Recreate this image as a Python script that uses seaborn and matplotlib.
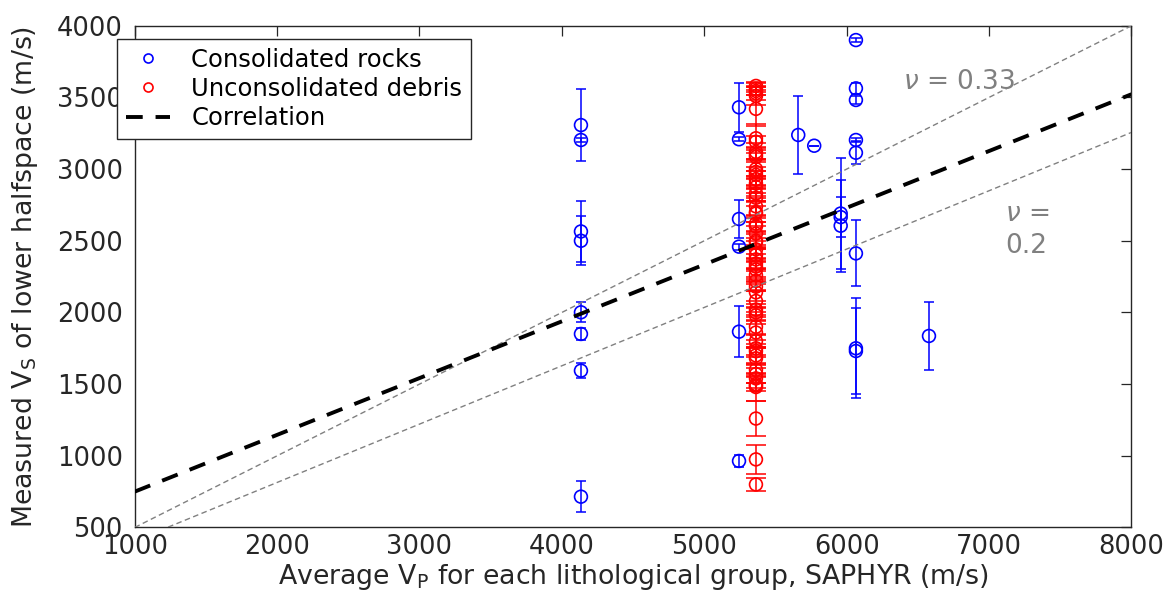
import numpy as np
import pandas as pd
import matplotlib
matplotlib.use("Agg")
import matplotlib.pyplot as plt
from matplotlib.lines import Line2D
import seaborn as sns

# Consolidated rocks: average Vp per lithological group and measured Vs (+/- error)
rock_vp = [4134] * 8 + [5244] * 6 + [5660, 5772] + [5958] * 3 + [6065] * 8 + [6578]
rock_vs = [3307, 3203, 2565, 2500, 2001, 1850, 1594, 715,
           3431, 3208, 2652, 2459, 1866, 964,
           3238, 3163,
           2690, 2665, 2605,
           3900, 3563, 3482, 3203, 3114, 2412, 1750, 1731,
           1836]
rock_err = [250, 15, 215, 170, 70, 40, 50, 110,
            170, 15, 130, 20, 180, 40,
            270, 0,
            390, 140, 320,
            12, 40, 30, 15, 80, 230, 350, 300,
            235]

# Unconsolidated debris: single Vp group
debris_vp_value = 5363
debris_vs = [3580, 3560, 3545, 3530, 3510, 3420, 3215, 3190, 3120, 3100,
             3085, 3000, 2980, 2960, 2930, 2900, 2875, 2830, 2800, 2740,
             2700, 2690, 2620, 2600, 2550, 2500, 2490, 2440, 2400, 2370,
             2340, 2320, 2300, 2260, 2220, 2180, 2140, 2080, 2020, 2000,
             1980, 1900, 1860, 1800, 1750, 1730, 1700, 1680, 1600, 1570,
             1540, 1500, 1490, 1480, 1260, 975, 800]
debris_err = [30, 40, 25, 50, 60, 120, 100, 40, 60, 30,
              70, 50, 90, 30, 60, 40, 80, 50, 30, 70,
              40, 90, 60, 30, 80, 50, 30, 60, 40, 70,
              30, 90, 50, 40, 70, 30, 60, 80, 40, 30,
              60, 50, 80, 40, 60, 30, 50, 70, 40, 60,
              30, 50, 20, 100, 125, 100, 45]
debris_vp = [debris_vp_value] * len(debris_vs)

# Linear correlation and constant Vs/Vp reference lines
corr_slope = 0.396
corr_intercept = 354
ratio_lines = {"nu_033": 0.5, "nu_02": 0.407}
vp_range = [1000, 8000]

x_ticks = [1000, 2000, 3000, 4000, 5000, 6000, 7000, 8000]
y_ticks = [500, 1000, 1500, 2000, 2500, 3000, 3500, 4000]

sns.set_theme(style="white")
plt.rcParams["font.family"] = ["DejaVu Sans"]
plt.rcParams["mathtext.fontset"] = "dejavusans"

dark = "#262626"
gray = "#808080"
blue = "#0000FF"
red = "#FF0000"

fig = plt.figure(figsize=(11.69, 6.01), dpi=100)
ax = fig.add_axes([0.1152, 0.1223, 0.8527, 0.8349])

rocks = pd.DataFrame({"vp": rock_vp, "vs": rock_vs, "err": rock_err})
debris = pd.DataFrame({"vp": debris_vp, "vs": debris_vs, "err": debris_err})

# error bars
ax.errorbar(rocks["vp"], rocks["vs"], yerr=rocks["err"], fmt="none",
            ecolor=blue, elinewidth=1.1, capsize=3.6, capthick=1.1, zorder=2)
ax.errorbar(debris["vp"], debris["vs"], yerr=debris["err"], fmt="none",
            ecolor=red, elinewidth=1.1, capsize=7, capthick=1.1, zorder=2)

# hollow circle markers
sns.scatterplot(data=rocks, x="vp", y="vs", ax=ax, marker="o", s=85,
                facecolors="none", edgecolor=blue, linewidth=1.2, zorder=3)
sns.scatterplot(data=debris, x="vp", y="vs", ax=ax, marker="o", s=85,
                facecolors="none", edgecolor=red, linewidth=1.2, zorder=3)

# reference lines
vp_arr = np.array(vp_range, dtype=float)
for key, ratio in ratio_lines.items():
    sns.lineplot(x=vp_arr, y=ratio * vp_arr, ax=ax, color=gray, linewidth=1.0,
                 zorder=4).lines[-1].set_dashes((4, 2.5))
corr_line = sns.lineplot(x=vp_arr, y=corr_slope * vp_arr + corr_intercept, ax=ax,
                         color="black", linewidth=2.8, zorder=5).lines[-1]
corr_line.set_dashes((4.3, 3.3))

ax.text(6395, 3610, r"$\nu$ = 0.33", color=gray, fontsize=19, ha="left", va="center")
ax.text(7112, 2578, "$\\nu$ =\n0.2", color=gray, fontsize=19, ha="left", va="center",
        linespacing=1.3)

ax.set_xlim(1000, 8000)
ax.set_ylim(500, 4000)
ax.set_xticks(x_ticks)
ax.set_yticks(y_ticks)
ax.tick_params(direction="in", top=True, right=True, length=7, width=0.9,
               colors=dark, labelsize=18.5)
ax.tick_params(axis="x", pad=5)
ax.tick_params(axis="y", pad=8.5)
for sp in ax.spines.values():
    sp.set_color(dark)
    sp.set_linewidth(1.0)
    sp.set_visible(True)

ax.set_xlabel(r"Average V$_\mathrm{P}$ for each lithological group, SAPHYR (m/s)",
              fontsize=19.3, color=dark, labelpad=1)
ax.set_ylabel(r"Measured V$_\mathrm{S}$ of lower halfspace (m/s)",
              fontsize=19.3, color=dark, labelpad=12)

handles = [
    Line2D([], [], marker="o", ls="none", mfc="none", mec=blue, ms=6.5, mew=1.2),
    Line2D([], [], marker="o", ls="none", mfc="none", mec=red, ms=6.5, mew=1.2),
    Line2D([], [], color="black", lw=2.8, dashes=(4.3, 3.3)),
]
leg = fig.legend(handles, ["Consolidated rocks", "Unconsolidated debris", "Correlation"],
                 loc="upper left", bbox_to_anchor=(0.1001, 0.9351), fontsize=17.5,
                 frameon=True, fancybox=False, framealpha=1, edgecolor=dark,
                 borderpad=0.35, labelspacing=0.22, handlelength=1.85, handletextpad=0.85,
                 borderaxespad=0)
leg.get_frame().set_linewidth(1.0)
for t in leg.get_texts():
    t.set_color("black")

fig.savefig("out.png", dpi=100)
